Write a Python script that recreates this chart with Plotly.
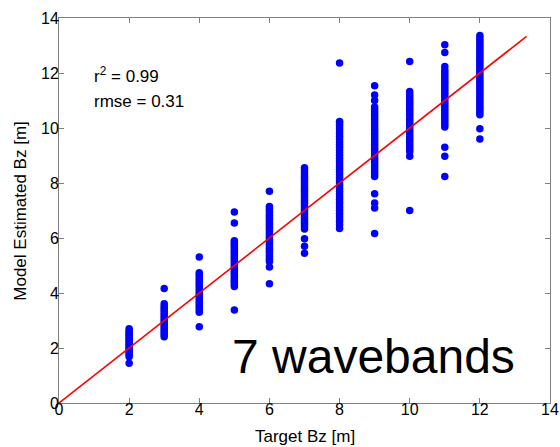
import plotly.graph_objects as go

# Target values (x) and model estimated values (y) for each column
target_levels = [2, 3, 4, 5, 6, 7, 8, 9, 10, 11, 12]

est_at_2 = [1.45, 1.68, 1.76, 1.84, 1.90, 1.96, 2.02, 2.08, 2.14, 2.20, 2.26, 2.32,
            2.38, 2.44, 2.50, 2.56, 2.62, 2.70]
est_at_3 = [2.41, 2.48, 2.56, 2.64, 2.72, 2.80, 2.88, 2.96, 3.04, 3.12, 3.20, 3.28,
            3.36, 3.44, 3.52, 3.61, 4.16]
est_at_4 = [2.77, 3.30, 3.38, 3.46, 3.54, 3.62, 3.70, 3.78, 3.86, 3.94, 4.02, 4.10,
            4.18, 4.26, 4.34, 4.42, 4.50, 4.58, 4.66, 4.74, 5.31]
est_at_5 = [3.38, 4.24, 4.31, 4.38, 4.45, 4.52, 4.60, 4.67, 4.74, 4.82, 4.89, 4.96,
            5.04, 5.11, 5.18, 5.26, 5.33, 5.40, 5.48, 5.55, 5.62, 5.70, 5.77, 5.84,
            5.90, 6.55, 6.95]
est_at_6 = [4.34, 4.95, 5.15, 5.23, 5.31, 5.39, 5.47, 5.55, 5.63, 5.71, 5.79, 5.87,
            5.95, 6.03, 6.11, 6.19, 6.27, 6.35, 6.43, 6.51, 6.59, 6.67, 6.75, 6.83,
            6.91, 6.99, 7.07, 7.15, 7.70]
est_at_7 = [5.45, 5.70, 5.97, 6.33, 6.41, 6.49, 6.57, 6.65, 6.73, 6.81, 6.89, 6.97,
            7.05, 7.13, 7.21, 7.29, 7.37, 7.45, 7.53, 7.61, 7.69, 7.77, 7.85, 7.93,
            8.01, 8.09, 8.17, 8.25, 8.33, 8.41, 8.48, 8.55]
est_at_8 = [6.35, 6.48, 6.60, 6.70, 6.80, 6.90, 7.00, 7.10, 7.20, 7.30, 7.40, 7.50,
            7.60, 7.70, 7.80, 7.90, 8.00, 8.10, 8.20, 8.30, 8.40, 8.50, 8.60, 8.70,
            8.80, 8.90, 9.00, 9.10, 9.20, 9.30, 9.40, 9.50, 9.60, 9.70, 9.80, 9.90,
            10.00, 10.10, 10.18, 10.24, 12.36]
est_at_9 = [6.16, 7.09, 7.27, 7.61, 8.24, 8.33, 8.42, 8.51, 8.60, 8.69, 8.78, 8.87,
            8.96, 9.05, 9.14, 9.23, 9.32, 9.41, 9.50, 9.59, 9.68, 9.77, 9.86, 9.95,
            10.04, 10.13, 10.22, 10.31, 10.40, 10.49, 10.58, 10.67, 10.76, 11.00,
            11.20, 11.54]
est_at_10 = [7.00, 8.97, 9.15, 9.24, 9.33, 9.42, 9.51, 9.60, 9.69, 9.78, 9.87, 9.96,
             10.05, 10.14, 10.23, 10.32, 10.41, 10.50, 10.59, 10.68, 10.77, 10.86,
             10.95, 11.04, 11.13, 11.22, 11.33, 12.42]
est_at_11 = [8.24, 8.97, 9.30, 10.04, 10.13, 10.22, 10.31, 10.40, 10.49, 10.58, 10.67,
             10.76, 10.85, 10.94, 11.03, 11.12, 11.21, 11.30, 11.39, 11.48, 11.57,
             11.66, 11.75, 11.84, 11.93, 12.02, 12.11, 12.24, 12.75, 13.03]
est_at_12 = [9.60, 9.97, 10.48, 10.57, 10.66, 10.75, 10.84, 10.93, 11.02, 11.11, 11.20,
             11.29, 11.38, 11.47, 11.56, 11.65, 11.74, 11.83, 11.92, 12.01, 12.10,
             12.19, 12.28, 12.37, 12.46, 12.55, 12.64, 12.73, 12.82, 12.91, 13.00,
             13.09, 13.18, 13.27, 13.36]

columns = [est_at_2, est_at_3, est_at_4, est_at_5, est_at_6, est_at_7, est_at_8,
           est_at_9, est_at_10, est_at_11, est_at_12]

line_x = [0, 13.33]
line_y = [0, 13.33]

tick_vals = [0, 2, 4, 6, 8, 10, 12, 14]

xs, ys = [], []
for t, col in zip(target_levels, columns):
    xs.extend([t] * len(col))
    ys.extend(col)

FONT = "Liberation Sans, Arial, sans-serif"

fig = go.Figure()
fig.add_trace(go.Scatter(x=xs, y=ys, mode="markers",
                         marker=dict(color="#0000FF", size=7.5, line=dict(width=0)),
                         showlegend=False, hoverinfo="skip"))
fig.add_trace(go.Scatter(x=line_x, y=line_y, mode="lines",
                         line=dict(color="#FF0000", width=1.6),
                         showlegend=False, hoverinfo="skip"))

axis_common = dict(range=[0, 14], tickvals=tick_vals, ticks="inside", ticklen=5,
                   tickcolor="#808080", showline=True, linecolor="#808080",
                   linewidth=1, mirror="ticks", showgrid=False, zeroline=False,
                   automargin=False,
                   tickfont=dict(family=FONT, size=16, color="#000000"))

fig.update_layout(
    width=560, height=447,
    margin=dict(l=59, r=10, t=18, b=44),
    paper_bgcolor="white", plot_bgcolor="white",
    xaxis=dict(**axis_common, ticklabelstandoff=-8),
    yaxis=dict(**axis_common, ticklabelstandoff=-4),
    annotations=[
        dict(x=0.5, y=-0.088, xref="paper", yref="paper", text="Target Bz [m]",
             showarrow=False, xanchor="center", yanchor="middle",
             font=dict(family=FONT, size=17, color="#000000")),
        dict(x=-0.079, y=0.5, xref="paper", yref="paper", text="Model Estimated Bz [m]",
             showarrow=False, xanchor="center", yanchor="middle", textangle=-90,
             font=dict(family=FONT, size=17, color="#000000")),
        dict(x=0.95, y=11.94, xref="x", yref="y", text="r<sup>2</sup> = 0.99",
             showarrow=False, xanchor="left", yanchor="middle",
             font=dict(family=FONT, size=17, color="#000000")),
        dict(x=0.95, y=10.97, xref="x", yref="y", text="rmse = 0.31",
             showarrow=False, xanchor="left", yanchor="middle",
             font=dict(family=FONT, size=17, color="#000000")),
        dict(x=4.88, y=1.68, xref="x", yref="y", text="7 wavebands",
             showarrow=False, xanchor="left", yanchor="middle",
             font=dict(family=FONT, size=48, color="#000000")),
    ],
)

fig.write_html("out.html", config={"displayModeBar": False},
               post_script="document.body.style.margin='0';document.body.style.overflow='hidden';")
